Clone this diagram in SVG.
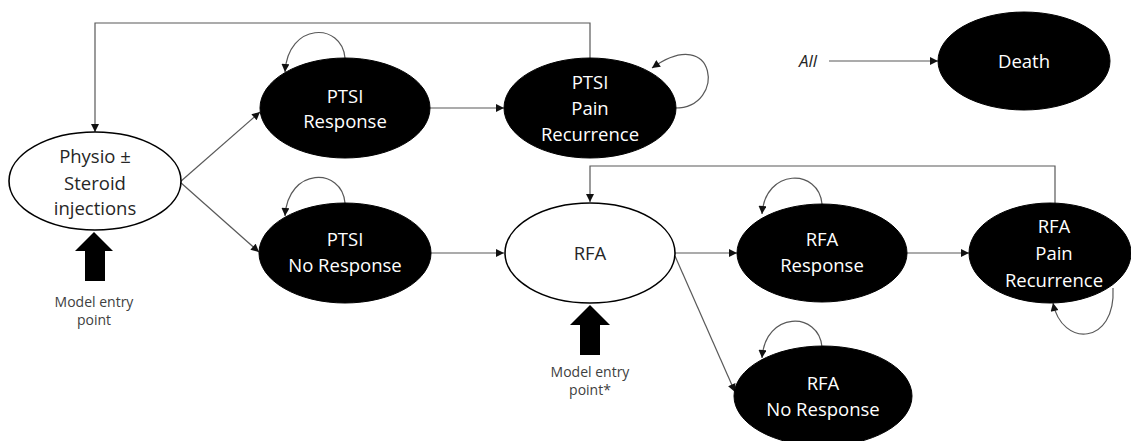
<svg xmlns="http://www.w3.org/2000/svg" width="1131" height="441" viewBox="0 0 1131 441">
<style>
.blk{fill:#000;stroke:#000;stroke-width:1}
.wht{fill:#fff;stroke:#000;stroke-width:1.6}
.tw{fill:#fff;font-family:"Open Sans","Noto Sans",sans-serif;font-size:18.5px;text-anchor:middle}
.td{fill:#262626;font-family:"Open Sans","Noto Sans",sans-serif;font-size:18.5px;text-anchor:middle}
.tn{fill:#404040;font-family:"Open Sans","Noto Sans",sans-serif;font-size:14px;text-anchor:middle}
.ln{fill:none;stroke:#595959;stroke-width:1.2;marker-end:url(#ah)}
.big{fill:#000}
</style>
<defs>
<marker id="ah" viewBox="0 0 10 10" refX="10" refY="5" markerWidth="9" markerHeight="8" markerUnits="userSpaceOnUse" orient="auto">
<path d="M0,0 L10,5 L0,10 z" fill="#111"/>
</marker>
</defs>
<g id="connectors">
<path class="ln" d="M590,58 V23 H95 V132"/>
<path class="ln" d="M1055,204 V166 H590 V202"/>
<path class="ln" d="M180,182 L260,112"/>
<path class="ln" d="M180,182 L259,252"/>
<path class="ln" d="M430,108 L504,108"/>
<path class="ln" d="M431,253 L504,253"/>
<path class="ln" d="M675,253 L737,253"/>
<path class="ln" d="M675,256 L735,392"/>
<path class="ln" d="M907,253 L969,253"/>
<path class="ln" d="M829,61 L938,61"/>
<path class="ln" d="M345,58 C342,22 288,22 285,72"/>
<path class="ln" d="M345,203 C342,167 288,167 285,216"/>
<path class="ln" d="M675,108 C727,108 717,22 652,68"/>
<path class="ln" d="M822,204 C819,168 765,168 762,214"/>
<path class="ln" d="M822,347 C819,311 765,311 762,358"/>
<path class="ln" d="M1113,288 C1116,345 1062,348 1053,303"/>
</g>
<g id="physio">
<ellipse class="wht" cx="95" cy="181" rx="86" ry="49"/>
<text class="td" x="95" y="163">Physio ±</text>
<text class="td" x="95" y="190">Steroid</text>
<text class="td" x="95" y="215">injections</text>
</g>
<g id="entry1">
<path class="big" d="M94,232 L113,251 L105,251 L105,281 L85,281 L85,251 L75,251 Z"/>
<text class="tn" x="94" y="307">Model entry</text>
<text class="tn" x="94" y="325">point</text>
</g>
<g id="ptsi-response">
<ellipse class="blk" cx="345" cy="108" rx="85" ry="50"/>
<text class="tw" x="345" y="103">PTSI</text>
<text class="tw" x="345" y="128">Response</text>
</g>
<g id="ptsi-pain">
<ellipse class="blk" cx="590" cy="108" rx="86" ry="50"/>
<text class="tw" x="590" y="89">PTSI</text>
<text class="tw" x="590" y="115">Pain</text>
<text class="tw" x="590" y="141">Recurrence</text>
</g>
<g id="ptsi-noresponse">
<ellipse class="blk" cx="345" cy="253" rx="86" ry="50"/>
<text class="tw" x="345" y="246">PTSI</text>
<text class="tw" x="345" y="272">No Response</text>
</g>
<g id="rfa">
<ellipse class="wht" cx="590" cy="253" rx="85" ry="50"/>
<text class="td" x="590" y="260">RFA</text>
</g>
<g id="entry2">
<path class="big" d="M590,305 L610,325 L600,325 L600,355 L580,355 L580,325 L570,325 Z"/>
<text class="tn" x="590" y="377">Model entry</text>
<text class="tn" x="590" y="395">point*</text>
</g>
<g id="rfa-response">
<ellipse class="blk" cx="822" cy="253" rx="85" ry="49"/>
<text class="tw" x="822" y="246">RFA</text>
<text class="tw" x="822" y="272">Response</text>
</g>
<g id="rfa-pain">
<ellipse class="blk" cx="1050" cy="253" rx="81" ry="50"/>
<text class="tw" x="1054" y="233">RFA</text>
<text class="tw" x="1054" y="260">Pain</text>
<text class="tw" x="1054" y="287">Recurrence</text>
</g>
<g id="rfa-noresponse">
<ellipse class="blk" cx="823" cy="396" rx="89" ry="50"/>
<text class="tw" x="823" y="390">RFA</text>
<text class="tw" x="823" y="416">No Response</text>
</g>
<g id="death">
<ellipse class="blk" cx="1024" cy="61" rx="86" ry="49"/>
<text class="tw" x="1024" y="68">Death</text>
</g>
<g id="all">
<text x="808" y="67" fill="#262626" font-family="'Open Sans','Noto Sans',sans-serif" font-size="17" font-style="italic" text-anchor="middle">All</text>
</g>
</svg>
